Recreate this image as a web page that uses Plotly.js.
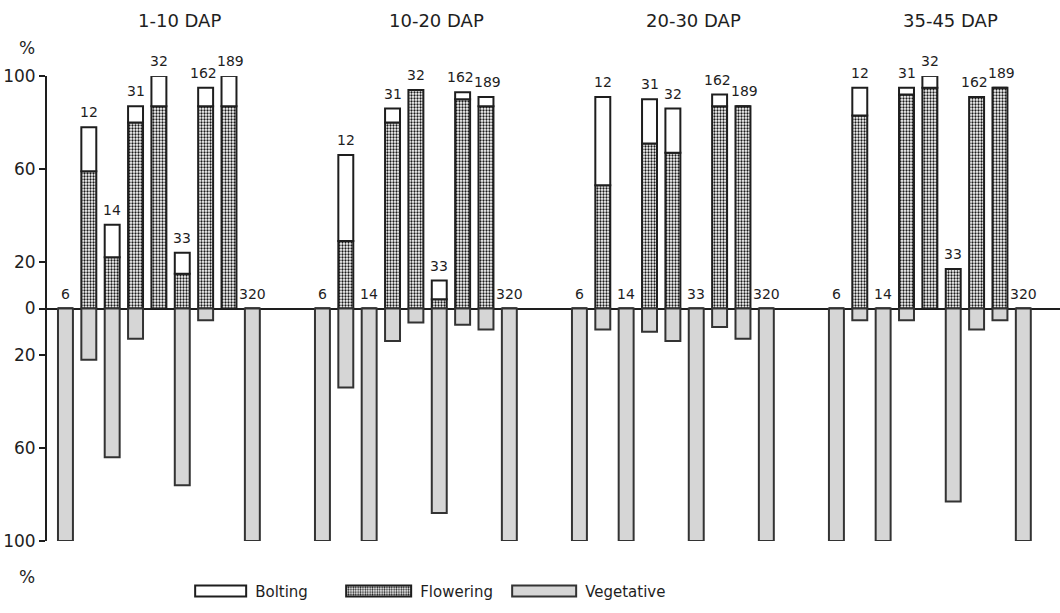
<!DOCTYPE html>
<html>
<head>
<meta charset="utf-8">
<script src="https://cdn.plot.ly/plotly-3.0.1.min.js"></script>
<style>html,body{margin:0;padding:0;background:#fff;}#chart{width:1060px;height:613px;}</style>
</head>
<body>
<div id="chart"></div>
<script>
// ---- data ----
const periods = ["1-10 DAP", "10-20 DAP", "20-30 DAP", "35-45 DAP"];
const lines = ["6", "12", "14", "31", "32", "33", "162", "189", "320"];
// flowering %, per period (rows) and line (columns)
const flowering = [
  [0, 59, 22, 80, 87, 15, 87, 87, 0],
  [0, 29, 0, 80, 94, 4, 90, 87, 0],
  [0, 53, 0, 71, 67, 0, 87, 87, 0],
  [0, 83, 0, 92, 95, 17, 91, 95, 0]
];
// bolting %
const bolting = [
  [0, 19, 14, 7, 13, 9, 8, 13, 0],
  [0, 37, 0, 6, 0, 8, 3, 4, 0],
  [0, 38, 0, 19, 19, 0, 5, 0, 0],
  [0, 12, 0, 3, 5, 0, 0, 0, 0]
];
// vegetative %
const vegetative = [
  [100, 22, 64, 13, 0, 76, 5, 0, 100],
  [100, 34, 100, 14, 6, 88, 7, 9, 100],
  [100, 9, 100, 10, 14, 100, 8, 13, 100],
  [100, 5, 100, 5, 0, 83, 9, 5, 100]
];
const yTickVals = [100, 60, 20, 0, -20, -60, -100];
const yTickText = ["100", "60", "20", "0", "20", "60", "100"];

// ---- layout helpers ----
const GROUP_STEP = 11;
const xs = [], fl = [], bo = [], ve = [], tops = [], labs = [];
periods.forEach((p, g) => {
  lines.forEach((ln, i) => {
    xs.push(g * GROUP_STEP + i);
    fl.push(flowering[g][i]);
    bo.push(bolting[g][i]);
    ve.push(-vegetative[g][i]);
    tops.push(flowering[g][i] + bolting[g][i]);
    labs.push(ln);
  });
});

const FONT = "DejaVu Sans, sans-serif";
const INK = "#1e1e1e";
const BW = 0.64;
const labelNudge = {"162": -2, "189": 2};

const traces = [
  {
    type: "bar", name: "Flowering", x: xs, y: fl, width: BW, legendrank: 2,
    marker: {color: "#ffffff", line: {color: INK, width: 2},
      pattern: {shape: ".", fgcolor: "#1a1a1a", bgcolor: "#ffffff", size: 3, solidity: 0.45}}
  },
  {
    type: "bar", name: "Bolting", x: xs, y: bo, width: BW, legendrank: 1,
    marker: {color: "#ffffff", line: {color: INK, width: 2}}
  },
  {
    type: "bar", name: "Vegetative", x: xs, y: ve, width: BW, legendrank: 3,
    marker: {color: "#d6d6d6", line: {color: "#333", width: 2}}
  }
];

const annotations = [];
xs.forEach((x, k) => {
  annotations.push({
    x: x, y: tops[k], xref: "x", yref: "y", text: labs[k], showarrow: false,
    yanchor: "bottom", yshift: 5, xshift: labelNudge[labs[k]] || 0,
    font: {family: FONT, size: 14, color: INK}
  });
});
periods.forEach((p, g) => {
  annotations.push({
    x: g * GROUP_STEP + 4.9, y: 1.12, xref: "x", yref: "paper", text: p,
    showarrow: false, yanchor: "middle", font: {family: FONT, size: 18, color: INK}
  });
});
annotations.push({x: -0.02, y: 1.06, xref: "paper", yref: "paper", xanchor: "center",
  yanchor: "middle", text: "%", showarrow: false, font: {family: FONT, size: 17, color: INK}});
annotations.push({x: -0.02, y: -0.077, xref: "paper", yref: "paper", xanchor: "center",
  yanchor: "middle", text: "%", showarrow: false, font: {family: FONT, size: 17, color: INK}});

const layout = {
  width: 1060, height: 613,
  margin: {l: 47, r: 0, t: 76, b: 72, pad: 0},
  paper_bgcolor: "#ffffff", plot_bgcolor: "#ffffff",
  barmode: "relative",
  showlegend: true,
  legend: {orientation: "h", x: 0.166, y: -0.108, xanchor: "left", yanchor: "middle",
    font: {family: FONT, size: 15, color: INK}, entrywidth: 120,
    entrywidthmode: "pixels", traceorder: "normal"},
  xaxis: {range: [-0.79, 42.57], showticklabels: false, ticks: "", showgrid: false,
    zeroline: false, showline: false, fixedrange: true},
  yaxis: {range: [-100, 100], tickvals: yTickVals, ticktext: yTickText, ticks: "outside",
    ticklen: 6, tickwidth: 2, tickcolor: INK, showline: true, linecolor: INK, linewidth: 2,
    showgrid: false, zeroline: true, zerolinecolor: INK, zerolinewidth: 2,
    tickfont: {family: FONT, size: 17, color: INK}, fixedrange: true},
  annotations: annotations,
  font: {family: FONT, color: INK}
};

// widths (px) of the long key boxes, in legend order: Bolting, Flowering, Vegetative
const keyBoxWidths = [51, 65, 64];

Plotly.newPlot("chart", traces, layout, {staticPlot: true, displayModeBar: false}).then(gd => {
  // let the key boxes extend past the legend's clip area
  gd.querySelectorAll(".legend [clip-path]").forEach(el => el.removeAttribute("clip-path"));
  // widen the legend swatches into long boxes placed just left of their labels
  const items = gd.querySelectorAll(".legend .traces");
  items.forEach((item, idx) => {
    const txt = item.querySelector("text.legendtext");
    const path = item.querySelector(".legendpoints path");
    if (!txt || !path) return;
    const tLeft = txt.getBoundingClientRect().left;
    const pLeft = path.getBoundingClientRect().left; // corresponds to local x = -6
    const w = keyBoxWidths[idx] || 58;
    const right = (tLeft - 9) - pLeft - 6;
    const left = right - w;
    path.setAttribute("d", "M" + left + ",5.5H" + right + "V-5.5H" + left + "Z");
  });
});
</script>
</body>
</html>
